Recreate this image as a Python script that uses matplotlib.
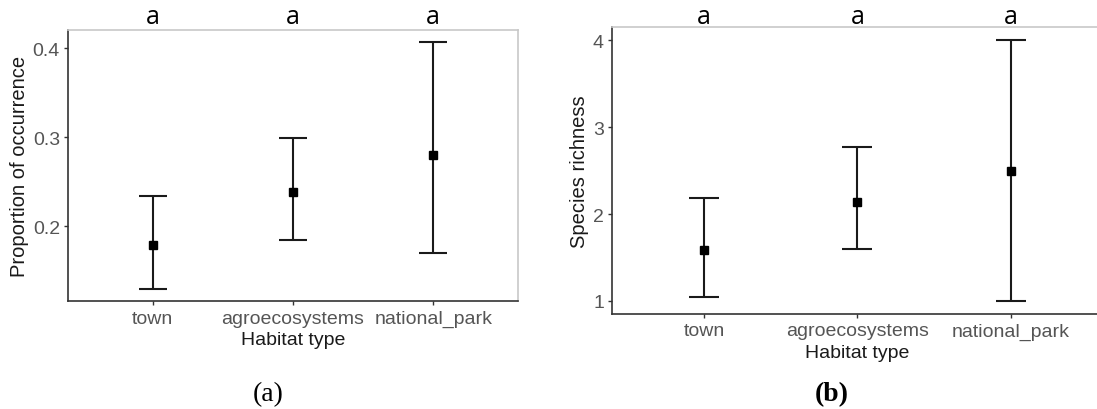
import matplotlib
matplotlib.use("Agg")
import matplotlib.pyplot as plt
from matplotlib.transforms import blended_transform_factory

# ---- data ----
habitats = ["town", "agroecosystems", "national_park"]
group_letters = ["a", "a", "a"]

occ_mean = [0.179, 0.239, 0.280]
occ_low = [0.130, 0.185, 0.170]
occ_high = [0.234, 0.299, 0.407]

rich_mean = [1.59, 2.14, 2.50]
rich_low = [1.05, 1.595, 1.00]
rich_high = [2.18, 2.77, 4.00]

occ_ticks = [0.2, 0.3, 0.4]
occ_ticklabels = ["0.2", "0.3", "0.4"]
rich_ticks = [1, 2, 3, 4]
rich_ticklabels = ["1", "2", "3", "4"]

W, H = 1097, 410
DPI = 100
fig = plt.figure(figsize=(W / DPI, H / DPI), dpi=DPI)
plt.rcParams['font.family'] = ['Liberation Sans', 'DejaVu Sans']

TICK_GRAY = "#555555"
DARK = "#1A1A1A"


def px_box(left, right, top, bottom):
    return [left / W, (H - bottom) / H, (right - left) / W, (bottom - top) / H]


def panel(rect, means, lows, highs, ticks, ticklabels, ylabel, ylim):
    ax = fig.add_axes(rect)
    x = list(range(len(habitats)))
    yerr = [[m - l for m, l in zip(means, lows)],
            [h - m for m, h in zip(means, highs)]]
    ax.set_xlim(-0.6, len(habitats) - 0.4)
    ax.set_ylim(*ylim)
    # cap half-width = 0.1 data units, converted to points
    ax_w_px = rect[2] * W
    unit_px = ax_w_px / (len(habitats) + 0.2)
    cap_pt = 0.1 * unit_px * 72 / DPI
    ax.errorbar(x, means, yerr=yerr, fmt="s", color="black", ecolor=DARK,
                elinewidth=1.5, capthick=1.5, capsize=cap_pt,
                markersize=6.3, zorder=3)
    ax.set_xticks(x)
    ax.set_xticklabels(habitats, fontsize=14, color=TICK_GRAY)
    ax.set_yticks(ticks)
    ax.set_yticklabels(ticklabels, fontsize=14, color=TICK_GRAY)
    ax.tick_params(axis="both", direction="out", length=3, width=1.0,
                   color="#333333", pad=3)
    ax.set_xlabel("Habitat type", fontsize=14, color=DARK, labelpad=3)
    ax.set_ylabel(ylabel, fontsize=14.5, color=DARK, labelpad=3)
    for s in ("left", "bottom"):
        ax.spines[s].set_color("#333333")
        ax.spines[s].set_linewidth(1.2)
    for s in ("top", "right"):
        ax.spines[s].set_color("#C8C8C8")
        ax.spines[s].set_linewidth(1.2)
    tr = blended_transform_factory(ax.transData, fig.transFigure)
    for xi, lt in zip(x, group_letters):
        ax.text(xi, 1 - 18 / H, lt, transform=tr, ha="center", va="center",
                fontsize=18, color="black", family=["Open Sans", "DejaVu Sans"])
    return ax


ax1 = panel(px_box(68.3, 517.5, 31, 302.3), occ_mean, occ_low, occ_high,
            occ_ticks, occ_ticklabels, "Proportion of occurrence", (0.1159, 0.4206))
ax2 = panel(px_box(612.3, 1102.6, 28.3, 315), rich_mean, rich_low, rich_high,
            rich_ticks, rich_ticklabels, "Species richness", (0.85, 4.15))

fig.text(268 / W, 1 - 395 / H, "(a)", ha="center", va="center", fontsize=20,
         family=["Liberation Serif", "DejaVu Serif"])
fig.text(832 / W, 1 - 395 / H, "(b)", ha="center", va="center", fontsize=20,
         fontweight="bold", family=["Liberation Serif", "DejaVu Serif"])

fig.savefig("out.png", dpi=DPI)
